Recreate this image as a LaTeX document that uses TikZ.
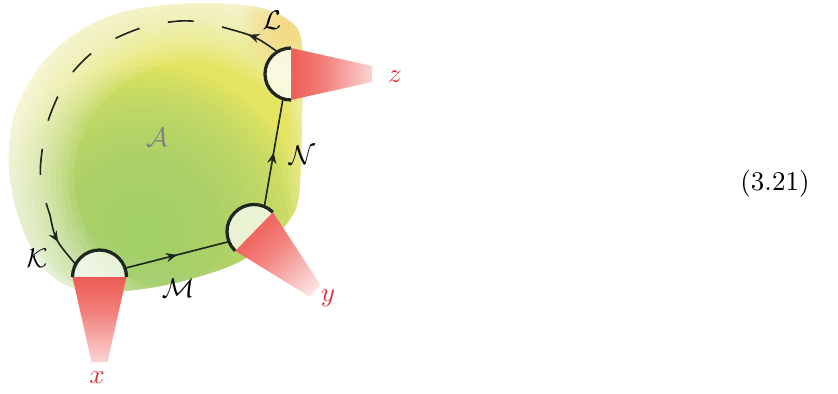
\documentclass[tikz,border=0pt]{standalone}
\usetikzlibrary{decorations.markings,arrows.meta,calc}
\definecolor{cR}{RGB}{234,48,40}
\definecolor{cLab}{RGB}{228,44,56}
\definecolor{cG}{RGB}{162,208,112}
\definecolor{cY}{RGB}{228,228,96}
\definecolor{cO}{RGB}{246,212,110}
\definecolor{cP}{RGB}{251,245,198}
\definecolor{cInk}{RGB}{30,38,30}
\pgfdeclareradialshading{basesh}{\pgfpointorigin}{color(0bp)=(cY); color(17bp)=(cY); color(36bp)=(cP); color(50bp)=(white)}
\pgfdeclareverticalshading{conesh}{100bp}{color(0bp)=(white); color(10bp)=(white); color(55bp)=(cR!62!white); color(100bp)=(cR)}
\begin{document}
\begin{tikzpicture}[x=0.013cm, y=-0.013cm,
  conn/.style={cInk, line width=0.6pt},
  diskline/.style={cInk, line width=1.2pt},
  diskfill/.style={fill=white, fill opacity=0.72},
  cone/.style={shading=conesh},
  midarrow/.style={postaction={decorate}, decoration={markings, mark=at position #1 with {\arrow{Stealth[length=4pt,width=3.4pt]}}}},
  lab/.style={inner sep=0pt}]
\useasboundingbox (0,0) rectangle (838,394);
% blob
\begin{scope}
\clip plot[smooth cycle, tension=0.6] coordinates {(302,45) (302,120) (299,195) (288,222) (265,245) (230,266) (170,284) (110,292) (72,287) (48,272) (30,245) (14,200) (9,150) (20,100) (55,50) (110,16) (180,4) (250,6) (288,20)};
\path[shading=basesh] (205,95) circle (230);
\foreach \r in {7,14,...,168} {\fill[cG, opacity=0.11] (142,234) circle (\r);}
\foreach \r in {116,122,...,200} {\fill[white, opacity=0.1, even odd rule] (-50,-50) rectangle (450,400) (190,178) circle (\r);}
\foreach \r in {5,10,...,55} {\fill[white, opacity=0.07] (338,165) ellipse [x radius=\r, y radius=1.9*\r];}
\foreach \r in {5,10,...,50} {\fill[cO, opacity=0.12] (292,26) circle (\r);}
\end{scope}
% centres and anchors
\coordinate (xc) at (99.5,277);
\coordinate (yc) at (254,231.5);
\coordinate (zc) at (291,74);
\coordinate (xK) at ($(xc)+(208:27)$);
\coordinate (xM) at ($(xc)+(341:27)$);
\coordinate (yM) at ($(yc)+(158:27)$);
\coordinate (yN) at ($(yc)+(292.5:27)$);
\coordinate (zN) at ($(zc)+(108:26)$);
\coordinate (zL) at ($(zc)+(238.7:26)$);
\coordinate (l1) at (222,27);
\coordinate (k1) at (50,215);
% cones
\path[cone] (72.5,277) -- (126.5,277) -- (107.5,362) -- (91.5,362) -- cycle;
\path[cone, shading angle=45] (272.8,212.1) -- (320.5,285.1) -- (309.3,296.5) -- (235.2,250.9) -- cycle;
\path[cone, shading angle=90] (291,48) -- (372,66) -- (372,82) -- (291,100) -- cycle;
% connectors
\draw[conn, midarrow=0.55] (zL) .. controls (255,36) .. (l1);
\draw[conn, dash pattern=on 9.6pt off 10.7pt, dash phase=9.6pt] plot[smooth, tension=0.7] coordinates {(l1) (180,21) (125,34) (80,64) (52,110) (41,160) (43,190) (k1)};
\draw[conn, midarrow=0.5] (k1) .. controls (55,240) .. (xK);
\draw[conn, midarrow=0.5] (xM) -- (yM);
\draw[conn, midarrow=0.5] (yN) -- (zN);
% half disks
\path[diskfill] (xc) ++(180:27) arc (180:360:27) -- cycle;
\draw[diskline] (xc) ++(180:27) arc (180:360:27);
\path[diskfill] (yc) ++(134.3:27) arc (134.3:314.3:27) -- cycle;
\draw[diskline] (yc) ++(134.3:27) arc (134.3:314.3:27);
\path[diskfill] (zc) ++(90:26) arc (90:270:26) -- cycle;
\draw[diskline] (zc) ++(90:26) arc (90:270:26);
% labels
\node[lab] (lL) at (272,20) {$\mathcal{L}$};
\node[lab] (lK) at (37,258) {$\mathcal{K}$};
\node[lab] (lM) at (178,288) {$\mathcal{M}$};
\node[lab] (lN) at (302,155) {$\mathcal{N}$};
\node[lab, text=black!50] (lA) at (157,137) {$\mathcal{A}$};
\node[lab, text=cLab] (lx) at (97,378) {$x$};
\node[lab, text=cLab] (ly) at (328,298) {$y$};
\node[lab, text=cLab] (lz) at (395,77) {$z$};
\node[lab] (eq) at (775,184) {(3.21)};
\end{tikzpicture}
\end{document}
